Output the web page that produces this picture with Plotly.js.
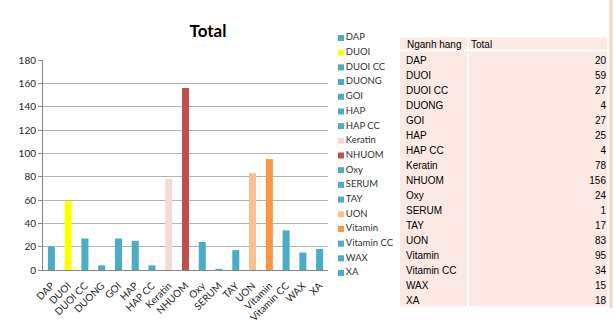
<!DOCTYPE html>
<html>
<head>
<meta charset="utf-8">
<script src="https://cdn.plot.ly/plotly-3.0.1.min.js"></script>
<style>html,body{margin:0;padding:0;background:#fff;}#chart{width:615px;height:331px;}</style>
</head>
<body>
<div id="chart"></div>
<script>
const categories = ["DAP","DUOI","DUOI CC","DUONG","GOI","HAP","HAP CC","Keratin","NHUOM","Oxy","SERUM","TAY","UON","Vitamin","Vitamin CC","WAX","XA"];
const totals = [20,59,27,4,27,25,4,78,156,24,1,17,83,95,34,15,18];
const barColors = ["#4bacc6","#ffff00","#4bacc6","#4bacc6","#4bacc6","#4bacc6","#4bacc6","#f2dcdb","#c0504d","#4bacc6","#4bacc6","#4bacc6","#fac090","#f79646","#4bacc6","#4bacc6","#4bacc6"];
const tableHeader = ["Nganh hang","Total"];
const chartTitle = "Total";

const W = 615, H = 331;
const fx = p => p / W;
const fy = p => 1 - p / H;
const chartFont = "Lato, Liberation Sans, sans-serif";
const tableFont = {family: "Liberation Sans, Arial, sans-serif", size: 10, color: "#000"};
const TW = 207; // table width in px units for x3

const bars = {
  type: "bar",
  x: categories,
  y: totals,
  marker: {color: barColors},
  xaxis: "x", yaxis: "y",
  showlegend: false,
  hoverinfo: "x+y"
};

const legendTrace = {
  type: "scatter",
  mode: "markers+text",
  x: categories.map(() => 0),
  y: categories,
  text: categories,
  textposition: "middle right",
  textfont: {family: chartFont, size: 9.5, color: "#333333"},
  marker: {symbol: "square", size: 6, color: barColors},
  xaxis: "x2", yaxis: "y2",
  cliponaxis: false,
  showlegend: false,
  hoverinfo: "skip"
};

const tableNames = {
  type: "scatter", mode: "text",
  x: categories.map(() => 6),
  y: categories,
  text: categories,
  textposition: "middle right",
  textfont: tableFont,
  xaxis: "x3", yaxis: "y4",
  cliponaxis: false, showlegend: false, hoverinfo: "skip"
};
const tableValues = {
  type: "scatter", mode: "text",
  x: categories.map(() => TW - 1),
  y: categories,
  text: totals.map(String),
  textposition: "middle left",
  textfont: tableFont,
  xaxis: "x3", yaxis: "y4",
  cliponaxis: false, showlegend: false, hoverinfo: "skip"
};

const layout = {
  width: W, height: H,
  margin: {l: 0, r: 0, t: 0, b: 0},
  paper_bgcolor: "#ffffff",
  plot_bgcolor: "rgba(0,0,0,0)",
  showlegend: false,
  bargap: 0.58,
  font: {family: chartFont, size: 10, color: "#262626"},
  title: {
    text: "<b>" + chartTitle + "</b>",
    x: fx(208), xanchor: "center",
    y: fy(31), yanchor: "middle",
    font: {family: chartFont, size: 17, color: "#000"}
  },
  xaxis: {
    domain: [fx(43), fx(328)],
    type: "category",
    categoryorder: "array", categoryarray: categories,
    range: [-0.5, 16.5],
    tickangle: -45,
    ticks: "",
    ticklabelstandoff: 5,
    showline: true, linecolor: "#868686", linewidth: 1,
    showgrid: false,
    automargin: false,
    tickfont: {family: chartFont, size: 10, color: "#262626"},
    fixedrange: true
  },
  xaxis4: {
    domain: [fx(43), fx(328)],
    overlaying: "x",
    anchor: "y",
    side: "bottom",
    type: "category",
    categoryorder: "array", categoryarray: categories,
    range: [-0.5, 16.5],
    tickson: "boundaries",
    ticks: "outside", ticklen: 4, tickcolor: "#868686",
    showticklabels: false,
    showline: false, showgrid: false, zeroline: false,
    automargin: false,
    fixedrange: true
  },
  yaxis: {
    domain: [fy(270), fy(60)],
    range: [0, 180],
    dtick: 20,
    ticks: "outside", ticklen: 4, tickcolor: "#868686",
    showline: true, linecolor: "#868686", linewidth: 1,
    showgrid: true, gridcolor: "#b3b3b3", gridwidth: 1,
    zeroline: false,
    automargin: false,
    tickfont: {family: chartFont, size: 10, color: "#262626"},
    fixedrange: true
  },
  xaxis2: {
    domain: [fx(341), fx(398)],
    range: [0, 1],
    visible: false,
    anchor: "y2",
    fixedrange: true
  },
  yaxis2: {
    domain: [fy(273), fy(38)],
    type: "category",
    range: [16, 0],
    visible: false,
    anchor: "x2",
    fixedrange: true
  },
  xaxis3: {
    domain: [fx(400), fx(400 + TW)],
    range: [0, TW],
    anchor: "y3",
    tickvals: [68],
    showticklabels: false, ticks: "",
    showgrid: true, gridcolor: "#ffffff", gridwidth: 2,
    zeroline: false, showline: false,
    fixedrange: true
  },
  yaxis3: {
    domain: [fy(306), fy(51)],
    type: "category",
    categoryorder: "array", categoryarray: categories,
    range: [16.5, -0.5],
    anchor: "x3",
    tickson: "boundaries",
    showticklabels: false, ticks: "",
    showgrid: true, gridcolor: "#ffffff", gridwidth: 2,
    zeroline: false, showline: false,
    fixedrange: true
  },
  yaxis4: {
    domain: [fy(308.5), fy(53.5)],
    overlaying: "y3",
    anchor: "x3",
    type: "category",
    categoryorder: "array", categoryarray: categories,
    range: [16.5, -0.5],
    visible: false,
    fixedrange: true
  },
  shapes: [
    {type: "rect", xref: "x3 domain", yref: "paper", layer: "below",
     x0: 0, x1: 1, y0: fy(306), y1: fy(37.5),
     fillcolor: "#fde9e3", line: {width: 0}},
    {type: "line", xref: "paper", yref: "paper", layer: "above",
     x0: fx(468), x1: fx(468), y0: fy(51), y1: fy(37.5),
     line: {color: "#ffffff", width: 2}},
    {type: "line", xref: "paper", yref: "paper", layer: "above",
     x0: fx(400), x1: fx(607), y0: fy(50.5), y1: fy(50.5),
     line: {color: "#ffffff", width: 2}},
    {type: "line", xref: "paper", yref: "paper",
     x0: fx(611), x1: fx(611), y0: fy(0), y1: fy(308),
     line: {color: "#fbd3c2", width: 3}}
  ],
  annotations: [
    {xref: "paper", yref: "paper", x: fx(405), y: fy(45), xanchor: "left", yanchor: "middle",
     text: tableHeader[0], showarrow: false, font: tableFont},
    {xref: "paper", yref: "paper", x: fx(469), y: fy(45), xanchor: "left", yanchor: "middle",
     text: tableHeader[1], showarrow: false, font: tableFont}
  ]
};

Plotly.newPlot("chart", [bars, legendTrace, tableNames, tableValues], layout, {displayModeBar: false, staticPlot: true});
</script>
</body>
</html>
